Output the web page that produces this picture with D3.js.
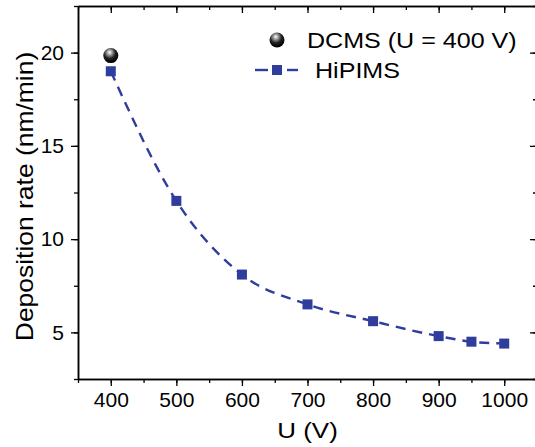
<!DOCTYPE html>
<html>
<head>
<meta charset="utf-8">
<script src="https://cdn.jsdelivr.net/npm/d3@7"></script>
<style>
  body { margin: 0; background: #fff; }
  text { font-family: "Liberation Sans", Arial, sans-serif; fill: #000; }
</style>
</head>
<body>
<div id="chart"></div>
<script>
// Data
var voltages = [400, 500, 600, 700, 800, 900, 950, 1000];
var hipimsRate = [19.0, 12.05, 8.1, 6.5, 5.6, 4.8, 4.5, 4.4];
var dcmsVoltage = [400];
var dcmsRate = [19.84];
var xTicks = [400, 500, 600, 700, 800, 900, 1000];
var yTicks = [5, 10, 15, 20];

var W = 535, H = 447;
var margin = {top: 6, right: -2, bottom: 68, left: 78};
var width = W - margin.left - margin.right,
    height = H - margin.top - margin.bottom;

var svg = d3.select("#chart").append("svg")
    .attr("width", W)
    .attr("height", H)
  .append("g")
    .attr("transform", "translate(" + margin.left + "," + margin.top + ")");

var x = d3.scaleLinear().domain([350, 1050]).range([0, width]);
var y = d3.scaleLinear().domain([2.5, 22.5]).range([height, 0]);

var xMinor = d3.range(350, 1051, 50);
var yMinor = d3.range(2.5, 22.6, 2.5);

function styleAxis(g) {
  g.select(".domain").attr("stroke", "#000").attr("stroke-width", 1.5);
  g.selectAll(".tick line").attr("stroke", "#000").attr("stroke-width", 1.3);
  g.selectAll(".tick text").style("font-size", "21px");
}

// bottom axis: minor then major
svg.append("g")
    .attr("transform", "translate(0," + height + ")")
    .call(d3.axisBottom(x).tickValues(xMinor).tickSize(4).tickSizeOuter(0).tickFormat(""))
    .call(styleAxis);
svg.append("g")
    .attr("transform", "translate(0," + height + ")")
    .call(d3.axisBottom(x).tickValues(xTicks).tickSize(7).tickSizeOuter(0).tickPadding(6).tickFormat(d3.format("d")))
    .call(styleAxis);

// top axis (inward ticks)
svg.append("g")
    .call(d3.axisTop(x).tickValues(xMinor).tickSize(-4).tickSizeOuter(0).tickFormat(""))
    .call(styleAxis);
svg.append("g")
    .call(d3.axisTop(x).tickValues(xTicks).tickSize(-7).tickSizeOuter(0).tickFormat(""))
    .call(styleAxis);

// left axis
svg.append("g")
    .call(d3.axisLeft(y).tickValues(yMinor).tickSize(4).tickSizeOuter(0).tickFormat(""))
    .call(styleAxis);
svg.append("g")
    .call(d3.axisLeft(y).tickValues(yTicks).tickSize(7).tickSizeOuter(0).tickPadding(7).tickFormat(d3.format("d")))
    .call(styleAxis);

// right axis (inward ticks)
svg.append("g")
    .attr("transform", "translate(" + width + ",0)")
    .call(d3.axisRight(y).tickValues(yMinor).tickSize(-4).tickSizeOuter(0).tickFormat(""))
    .call(styleAxis);
svg.append("g")
    .attr("transform", "translate(" + width + ",0)")
    .call(d3.axisRight(y).tickValues(yTicks).tickSize(-7).tickSizeOuter(0).tickFormat(""))
    .call(styleAxis);

// axis titles (glyphs slightly wide in the original)
svg.append("text")
    .attr("transform", "translate(" + x(700) + "," + (height + 59) + ") scale(1.18,1)")
    .attr("text-anchor", "middle")
    .style("font-size", "22px")
    .text("U (V)");

svg.append("text")
    .attr("transform", "translate(" + (-45) + "," + (height / 2 + 4) + ") rotate(-90) scale(1.15,1)")
    .attr("text-anchor", "middle")
    .style("font-size", "23px")
    .text("Deposition rate (nm/min)");

// sphere gradient
var defs = svg.append("defs");
var grad = defs.append("radialGradient")
    .attr("id", "ball")
    .attr("cx", "0.42").attr("cy", "0.32").attr("r", "0.65")
    .attr("fx", "0.42").attr("fy", "0.28");
grad.append("stop").attr("offset", "0%").attr("stop-color", "#ffffff");
grad.append("stop").attr("offset", "25%").attr("stop-color", "#a0a0a0");
grad.append("stop").attr("offset", "60%").attr("stop-color", "#202020");
grad.append("stop").attr("offset", "100%").attr("stop-color", "#000000");

var blue = "#2f3d9c";
var hipims = voltages.map(function(v, i) { return {u: v, r: hipimsRate[i]}; });

var line = d3.line()
    .x(function(d) { return x(d.u); })
    .y(function(d) { return y(d.r); })
    .curve(d3.curveMonotoneX);

svg.append("path")
    .datum(hipims)
    .attr("d", line)
    .attr("fill", "none")
    .attr("stroke", blue)
    .attr("stroke-width", 2.4)
    .attr("stroke-dasharray", "10,7");

svg.selectAll(".sq")
    .data(hipims)
    .enter().append("rect")
    .attr("class", "sq")
    .attr("x", function(d) { return x(d.u) - 5; })
    .attr("y", function(d) { return y(d.r) - 5; })
    .attr("width", 10)
    .attr("height", 10)
    .attr("fill", blue);

svg.selectAll(".ball")
    .data(dcmsVoltage)
    .enter().append("circle")
    .attr("class", "ball")
    .attr("cx", function(d) { return x(d); })
    .attr("cy", function(d, i) { return y(dcmsRate[i]); })
    .attr("r", 7.5)
    .attr("fill", "url(#ball)");

// legend
var lg = svg.append("g").attr("transform", "translate(" + (-margin.left) + "," + (-margin.top) + ")");
lg.append("circle").attr("cx", 277).attr("cy", 40).attr("r", 7.5).attr("fill", "url(#ball)");
lg.append("text").attr("transform", "translate(307,48) scale(1.14,1)").style("font-size", "22px").text("DCMS (U = 400 V)");
lg.append("line").attr("x1", 255).attr("x2", 268).attr("y1", 70).attr("y2", 70)
    .attr("stroke", blue).attr("stroke-width", 2.4);
lg.append("line").attr("x1", 287).attr("x2", 298).attr("y1", 70).attr("y2", 70)
    .attr("stroke", blue).attr("stroke-width", 2.4);
lg.append("rect").attr("x", 272).attr("y", 65).attr("width", 10).attr("height", 10).attr("fill", blue);
lg.append("text").attr("transform", "translate(315,78) scale(1.14,1)").style("font-size", "22px").text("HiPIMS");
</script>
</body>
</html>
